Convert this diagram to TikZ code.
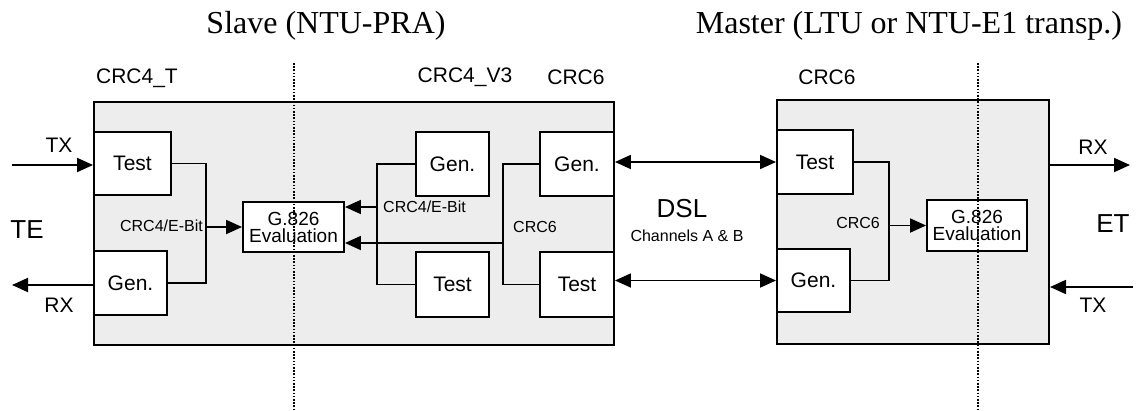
\documentclass[tikz,border=0pt]{standalone}
\usepackage{fontspec}
\setmainfont{Liberation Serif}
\setsansfont{Liberation Sans}
\usetikzlibrary{arrows.meta}

\begin{document}
\begin{tikzpicture}[x=1pt,y=-1pt,
	bigbox/.style={draw,line width=2pt,fill=black!7},
	blk/.style={draw,line width=1.9pt,fill=white,inner sep=0pt,font=\sffamily\fontsize{21}{24}\selectfont},
	evalbox/.style={draw,line width=1.9pt,fill=white,inner sep=0pt,align=center,font=\sffamily\fontsize{19}{17}\selectfont},
	lab/.style={inner sep=0pt,font=\sffamily\fontsize{21}{24}\selectfont},
	small/.style={inner sep=0pt,font=\sffamily\fontsize{16}{18}\selectfont},
	large/.style={inner sep=0pt,font=\sffamily\fontsize{26}{30}\selectfont},
	title/.style={inner sep=0pt,anchor=base,font=\rmfamily\fontsize{32}{36}\selectfont},
	wire/.style={line width=1.8pt},
	arr/.style={line width=1.8pt,-{Triangle[length=16pt,width=14pt]}},
	dbl/.style={line width=1.8pt,{Triangle[length=16pt,width=14pt]}-{Triangle[length=16pt,width=14pt]}},
	sep/.style={line width=1.6pt,dash pattern=on 1.6pt off 1.6pt}]
	\useasboundingbox (0,0) rectangle (1139,410);

	% titles
	\node[title] (slaveT) at (326,33) {Slave (NTU-PRA)};
	\node[title] (masterT) at (909,33) {Master (LTU or NTU-E1 transp.)};

	% the two units
	\node[bigbox,minimum width=520pt,minimum height=243pt] (slave) at (354,223.5) {};
	\node[bigbox,minimum width=272pt,minimum height=244pt] (master) at (913,222) {};

	\node[lab] (crcA) at (137,78) {CRC4\_T};
	\node[lab] (crcB) at (465,77) {CRC4\_V3};
	\node[lab] (crcC) at (576,77) {CRC6};
	\node[lab] (crcD) at (827,77) {CRC6};

	% slave side
	\node[blk,minimum width=77pt,minimum height=63pt] (testA) at (132.5,163.5) {Test};
	\node[blk,minimum width=73pt,minimum height=64pt] (genA) at (130.5,283) {Gen.};
	\node[evalbox,minimum width=101pt,minimum height=50pt] (evalA) at (293.5,227) {G.826\\Evaluation};
	\node[blk,minimum width=73pt,minimum height=64pt] (genB) at (452.5,164) {Gen.};
	\node[blk,minimum width=73pt,minimum height=65pt] (testB) at (452.5,284.5) {Test};
	\node[blk,minimum width=74pt,minimum height=64pt] (genC) at (577,164) {Gen.};
	\node[blk,minimum width=74pt,minimum height=65pt] (testC) at (577,284.5) {Test};

	% master side
	\node[blk,minimum width=76pt,minimum height=64pt] (testD) at (815,162) {Test};
	\node[blk,minimum width=73pt,minimum height=63pt] (genD) at (813.5,280.5) {Gen.};
	\node[evalbox,minimum width=100pt,minimum height=51pt] (evalD) at (977,225.5) {G.826\\Evaluation};

	% TE / ET interfaces
	\node[large] (te) at (27,230) {TE};
	\node[large] (et) at (1113,224) {ET};
	\coordinate (txA) at (12,165);
	\coordinate (rxA) at (12,285);
	\coordinate (rxD) at (1130,165);
	\coordinate (txD) at (1133,287);
	\draw[arr] (txA) -- (testA.west |- txA);
	\draw[arr] (genA.west |- rxA) -- (rxA);
	\draw[arr] (master.east |- rxD) -- (rxD);
	\draw[arr] (txD) -- (master.east |- txD);
	\node[lab] (txAl) at (59,145) {TX};
	\node[lab] (rxAl) at (59,305) {RX};
	\node[lab] (rxDl) at (1093,147) {RX};
	\node[lab] (txDl) at (1093,305) {TX};

	% CRC paths
	\coordinate (jA) at (206,227);
	\coordinate (jB) at (377,207);
	\coordinate (jC) at (503,243);
	\coordinate (jD) at (889,225.5);
	\draw[wire] (testA.east) -| (jA) |- (genA.east);
	\draw[arr] (jA) -- (evalA.west);
	\draw[wire] (genB.west) -| (jB) |- (testB.west);
	\draw[arr] (jB) -- (evalA.east |- jB);
	\draw[wire] (genC.west) -| (jC) |- (testC.west);
	\draw[arr] (jC) -- (evalA.east |- jC);
	\draw[wire] (testD.east) -| (jD) |- (genD.east);
	\draw[arr] (jD) -- (evalD.west);
	\node[small,anchor=east] (bitA) at (203,226) {CRC4/E-Bit};
	\node[small,anchor=west] (bitB) at (383,207) {CRC4/E-Bit};
	\node[small,anchor=west] (sixC) at (513,227) {CRC6};
	\node[small,anchor=east] (sixD) at (880,223) {CRC6};

	% DSL link
	\draw[dbl] (genC.east |- testD.west) -- (testD.west);
	\draw[dbl] (testC.east |- genD.west) -- (genD.west);
	\node[large] (dsl) at (682,209) {DSL};
	\node[small] (chan) at (687,236) {Channels A \& B};

	% dividing lines
	\draw[sep] (294,63) -- (294,410);
	\draw[sep] (978,63) -- (978,410);
\end{tikzpicture}
\end{document}
